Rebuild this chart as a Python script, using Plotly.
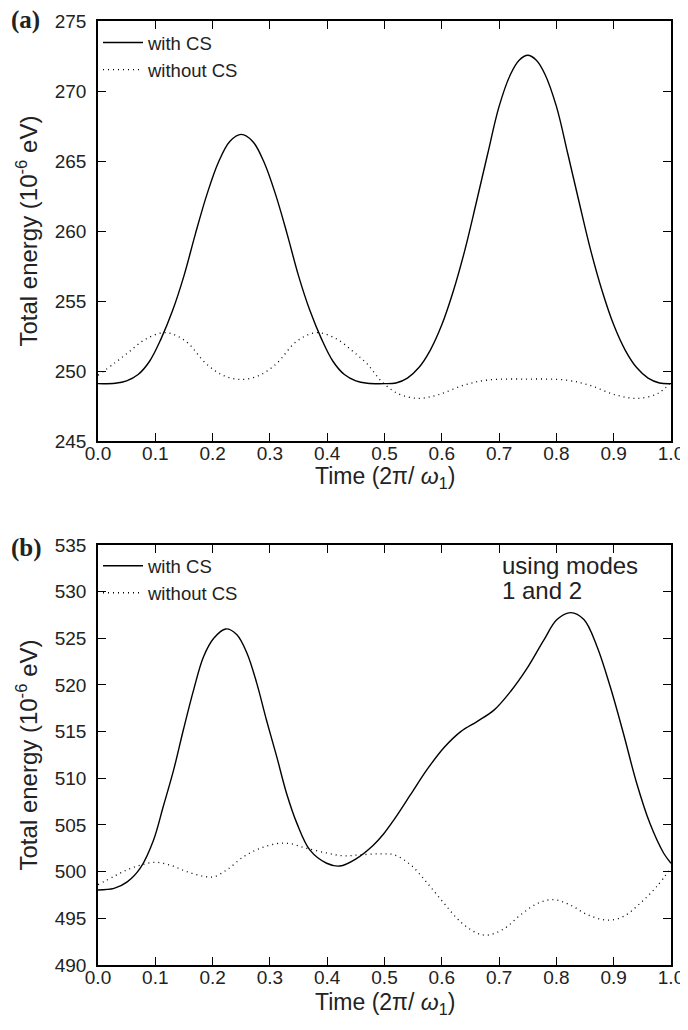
import plotly.graph_objects as go

# ---------------- Panel (a) data ----------------
t_a_with = [0.00, 0.03, 0.05, 0.07, 0.09, 0.11, 0.13, 0.15, 0.17, 0.19, 0.21, 0.23, 0.25,
            0.27, 0.29, 0.31, 0.33, 0.35, 0.37, 0.39, 0.41, 0.43, 0.45, 0.47, 0.50,
            0.52, 0.54, 0.56, 0.58, 0.60, 0.62, 0.64, 0.66, 0.68, 0.70, 0.72, 0.735, 0.75,
            0.765, 0.78, 0.80, 0.82, 0.84, 0.86, 0.88, 0.90, 0.92, 0.94, 0.96, 0.98, 1.00]
e_a_with = [249.10, 249.13, 249.3, 249.75, 250.7, 252.3, 254.3, 256.8, 259.8, 262.6, 264.9, 266.4, 266.9,
            266.4, 264.9, 262.6, 259.8, 256.8, 254.3, 252.3, 250.7, 249.75, 249.3, 249.13, 249.10,
            249.15, 249.5, 250.25, 251.5, 253.3, 255.7, 258.6, 262.0, 265.5, 268.9, 271.2, 272.2, 272.55,
            272.2, 271.2, 268.9, 265.5, 262.0, 258.6, 255.7, 253.3, 251.5, 250.25, 249.5, 249.15, 249.10]

t_a_without = [0.00, 0.03, 0.055, 0.084, 0.119, 0.154, 0.188, 0.218, 0.250, 0.282, 0.312,
               0.346, 0.381, 0.416, 0.445, 0.47, 0.494, 0.523, 0.558, 0.593, 0.639,
               0.680, 0.748, 0.816, 0.857, 0.903, 0.942, 0.977, 1.00]
e_a_without = [249.7, 250.6, 251.4, 252.3, 252.75, 252.1, 250.55, 249.7, 249.4, 249.7, 250.55,
               252.1, 252.75, 252.3, 251.4, 250.5, 249.3, 248.4, 248.05, 248.3, 249.0,
               249.36, 249.43, 249.36, 249.0, 248.3, 248.05, 248.4, 249.2]

# ---------------- Panel (b) data ----------------
t_b_with = [0.00, 0.028, 0.051, 0.074, 0.097, 0.114, 0.132, 0.149, 0.167, 0.184, 0.202,
            0.223, 0.242, 0.260, 0.277, 0.294, 0.312, 0.329, 0.347, 0.370, 0.399,
            0.422, 0.451, 0.480, 0.498, 0.517, 0.546, 0.575, 0.604, 0.633, 0.662,
            0.691, 0.720, 0.749, 0.778, 0.801, 0.825, 0.848, 0.871, 0.894, 0.917,
            0.940, 0.963, 0.987, 1.00]
e_b_with = [498.04, 498.2, 498.9, 500.4, 503.4, 507.0, 510.9, 515.2, 519.5, 523.0, 525.0,
            526.0, 525.4, 523.4, 520.2, 516.25, 512.3, 508.4, 505.2, 502.3, 500.9,
            500.6, 501.4, 502.8, 504.0, 505.6, 508.3, 511.0, 513.3, 515.0, 516.1,
            517.3, 519.3, 521.8, 524.8, 527.0, 527.75, 527.0, 524.1, 519.8, 514.8,
            509.5, 505.2, 502.0, 500.9]

t_b_without = [0.00, 0.028, 0.051, 0.074, 0.100, 0.126, 0.155, 0.184, 0.202, 0.225, 0.254,
               0.283, 0.312, 0.335, 0.364, 0.399, 0.428, 0.457, 0.491, 0.517, 0.546,
               0.575, 0.604, 0.633, 0.662, 0.680, 0.709, 0.738, 0.767, 0.796, 0.825,
               0.854, 0.889, 0.917, 0.946, 0.975, 1.00]
e_b_without = [498.6, 499.5, 500.2, 500.7, 501.0, 500.7, 500.0, 499.5, 499.45, 500.2, 501.6,
               502.5, 503.0, 503.0, 502.5, 502.0, 501.7, 501.8, 501.9, 501.8, 500.7,
               498.75, 496.6, 494.6, 493.4, 493.2, 493.9, 495.4, 496.6, 497.0, 496.4,
               495.4, 494.8, 495.2, 496.6, 498.4, 500.4]

x_ticks = [0.0, 0.1, 0.2, 0.3, 0.4, 0.5, 0.6, 0.7, 0.8, 0.9, 1.0]
x_tick_text = ["0.0", "0.1", "0.2", "0.3", "0.4", "0.5", "0.6", "0.7", "0.8", "0.9", "1.0"]
y_ticks_a = [245, 250, 255, 260, 265, 270, 275]
y_ticks_b = [490, 495, 500, 505, 510, 515, 520, 525, 530, 535]

x_title_text = "Time (2\u03c0/ <i>\u03c9</i><sub>1</sub>)"
y_title_text = "Total energy (10<sup>-6</sup> eV)"

FONT = "Liberation Sans, Arial, Helvetica, sans-serif"
SERIF = "Liberation Serif, Times New Roman, serif"
TXT = "#222"

fig = go.Figure()
solid = dict(color="black", width=1.4, shape="spline", smoothing=1.0)
dotted = dict(color="black", width=1.3, dash="1px,4px", shape="spline", smoothing=1.0)

fig.add_trace(go.Scatter(x=t_a_with, y=e_a_with, mode="lines", name="with CS",
                         line=solid, xaxis="x", yaxis="y", legend="legend"))
fig.add_trace(go.Scatter(x=t_a_without, y=e_a_without, mode="lines", name="without CS",
                         line=dotted, xaxis="x", yaxis="y", legend="legend"))
fig.add_trace(go.Scatter(x=t_b_with, y=e_b_with, mode="lines", name="with CS",
                         line=solid, xaxis="x2", yaxis="y2", legend="legend2"))
fig.add_trace(go.Scatter(x=t_b_without, y=e_b_without, mode="lines", name="without CS",
                         line=dotted, xaxis="x2", yaxis="y2", legend="legend2"))

axis_common = dict(showline=True, linecolor="black", linewidth=1.5, mirror="ticks",
                   ticks="inside", ticklen=8, tickwidth=1.2, tickcolor="black",
                   showgrid=False, zeroline=False, automargin=False,
                   ticklabeloverflow="allow",
                   tickfont=dict(family=FONT, size=19, color=TXT))

y_title = dict(text=y_title_text, font=dict(family=FONT, size=24, color=TXT), standoff=10)

legend_common = dict(x=0.0, xanchor="left", yanchor="top", bgcolor="rgba(0,0,0,0)",
                     font=dict(family=FONT, size=18.5, color=TXT), itemwidth=40)

# page body has an 8px default margin, so the figure sits at (8, 8) in the window
fig.update_layout(
    width=680, height=1014,
    margin=dict(l=90, r=17, t=13, b=57, autoexpand=False),
    paper_bgcolor="white", plot_bgcolor="white",
    showlegend=True,
    xaxis=dict(domain=[0, 1], anchor="y", range=[0, 1], tickvals=x_ticks,
               ticktext=x_tick_text, ticklabelstandoff=-6, **axis_common),
    yaxis=dict(domain=[0.555, 1], anchor="x", range=[245, 275], tickvals=y_ticks_a,
               title=y_title, ticklabelstandoff=6, **axis_common),
    xaxis2=dict(domain=[0, 1], anchor="y2", range=[0, 1], tickvals=x_ticks,
                ticktext=x_tick_text, ticklabelstandoff=-6, **axis_common),
    yaxis2=dict(domain=[0, 0.445], anchor="x2", range=[490, 535], tickvals=y_ticks_b,
                title=y_title, ticklabelstandoff=6, **axis_common),
    legend=dict(y=0.9968, **legend_common),
    legend2=dict(y=0.4426, **legend_common),
    annotations=[
        dict(text=x_title_text, x=0.5, y=0.5165, xref="paper", yref="paper",
             xanchor="center", yanchor="middle", showarrow=False,
             font=dict(family=FONT, size=23, color=TXT)),
        dict(text=x_title_text, x=0.5, y=-0.0403, xref="paper", yref="paper",
             xanchor="center", yanchor="middle", showarrow=False,
             font=dict(family=FONT, size=23, color=TXT)),
        dict(text="<b>(a)</b>", x=-0.155, y=1.001, xref="paper", yref="paper",
             xanchor="left", yanchor="middle", showarrow=False,
             font=dict(family=SERIF, size=25, color=TXT)),
        dict(text="<b>(b)</b>", x=-0.155, y=0.4417, xref="paper", yref="paper",
             xanchor="left", yanchor="middle", showarrow=False,
             font=dict(family=SERIF, size=25, color=TXT)),
        dict(text="using modes", x=0.702, y=532.75, xref="x2", yref="y2",
             xanchor="left", yanchor="middle", align="left", showarrow=False,
             font=dict(family=FONT, size=24, color=TXT)),
        dict(text="1 and 2", x=0.702, y=530.07, xref="x2", yref="y2",
             xanchor="left", yanchor="middle", align="left", showarrow=False,
             font=dict(family=FONT, size=24, color=TXT)),
    ],
)

fig.write_html("out.html")
